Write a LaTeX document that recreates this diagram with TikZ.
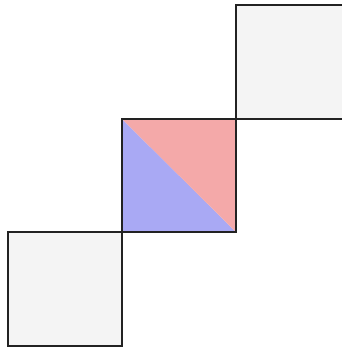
\documentclass[tikz,border=0pt]{standalone}
\definecolor{boxfill}{HTML}{F4F4F4}
\definecolor{edge}{HTML}{222222}
\definecolor{pinkfill}{HTML}{F4A9A9}
\definecolor{bluefill}{HTML}{A9A9F4}
\begin{document}
\begin{tikzpicture}[x=1pt,y=-1pt,
  sq/.style={draw=edge,line width=2.2pt,fill=boxfill}]
\useasboundingbox (0,0) rectangle (342,348);
\begin{scope}
\clip (0,0) rectangle (342,348);
\path[sq] (8,232) rectangle (122,346);
\path[sq] (236,5) rectangle (350,119);
\fill[bluefill] (122,119) -- (236,232) -- (122,232) -- cycle;
\fill[pinkfill] (122,119) -- (236,119) -- (236,232) -- cycle;
\draw[draw=edge,line width=2.2pt] (122,119) rectangle (236,232);
\end{scope}
\end{tikzpicture}
\end{document}
